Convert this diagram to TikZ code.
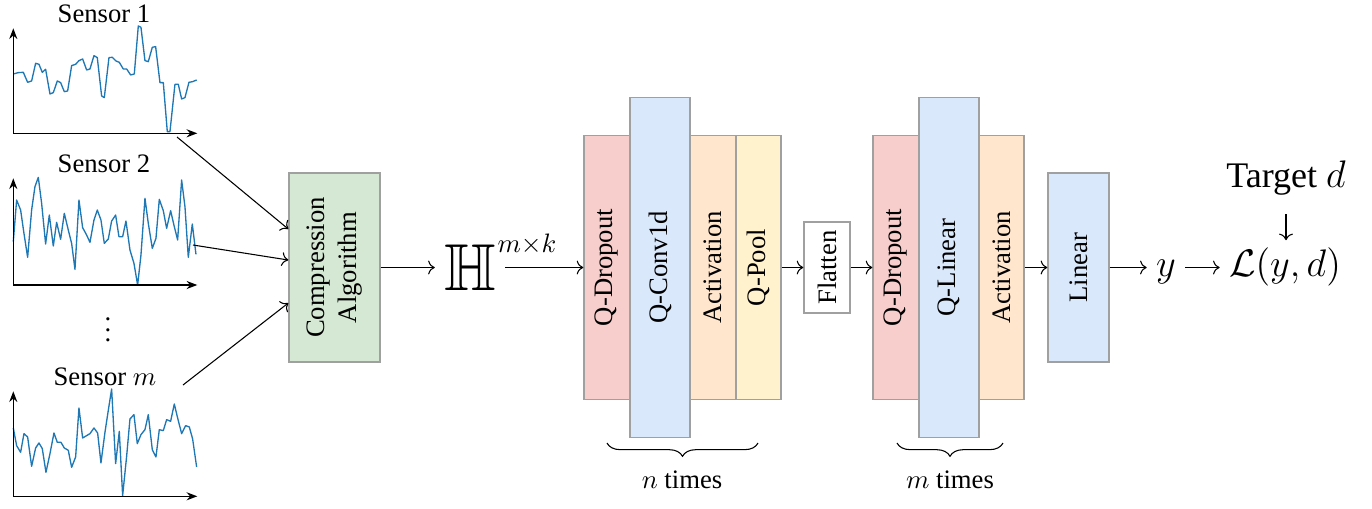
\documentclass[tikz,border=0pt]{standalone}
\usepackage{amsfonts,amsmath,amssymb}
\usepackage{fontspec}
\setmainfont{Liberation Serif}
\usetikzlibrary{decorations.pathreplacing, positioning, arrows.meta}

\definecolor{framecol}{HTML}{A0A0A0}
\definecolor{dropcol}{HTML}{F8CECC}
\definecolor{convcol}{HTML}{DAE8FC}
\definecolor{actcol}{HTML}{FFE6CC}
\definecolor{poolcol}{HTML}{FFF2CC}
\definecolor{compcol}{HTML}{D5E8D4}
\definecolor{sigcol}{HTML}{1F77B4}

\begin{document}
\begin{tikzpicture}[x=0.375pt, y=-0.375pt,
		layer/.style={draw=framecol, line width=0.5pt, inner sep=0pt, minimum width=17.25pt, minimum height=99pt},
		wide/.style={minimum width=22.5pt, minimum height=127.5pt},
		sig/.style={sigcol, line width=0.5pt, line join=round},
		ax/.style={-{Stealth[length=4pt, width=3pt]}, line width=0.6pt},
		big/.style={font=\fontsize{13.5}{16}\selectfont, text height=10pt, text depth=3.4pt},
		brc/.style={decorate, decoration={brace, mirror, amplitude=5pt}}]
	\useasboundingbox (0,0) rectangle (1372,508);

	% sensor signals
	\node (sen1) at (104,14) {Sensor 1};
	\begin{scope}[shift={(13.3,133.3)}, x=0.125pt, y=0.125pt]
		\draw[sig] plot coordinates {(0,178) (15,182) (30,183) (43,153) (55,157) (67,210) (77,207) (87,183) (97,192) (110,118) (120,122) (132,157) (142,152) (153,125) (163,127) (175,203) (187,207) (197,218) (208,223) (220,190) (230,193) (242,233) (252,227) (265,112) (273,107) (287,227) (297,228) (308,217) (318,213) (330,193) (340,193) (352,175) (363,178) (375,322) (383,318) (395,218) (405,215) (417,258) (427,260) (440,152) (450,152) (462,5) (470,5) (485,147) (495,147) (505,103) (515,107) (527,153) (538,155) (550,160)};
		\draw[ax] (0,0) -- (0,315);
		\draw[ax] (0,0) -- (552,0);
	\end{scope}

	\node (sen2) at (104,164) {Sensor 2};
	\begin{scope}[shift={(13.3,285)}, x=0.125pt, y=0.125pt]
		\draw[sig] plot coordinates {(0,130) (10,255) (22,225) (32,155) (43,83) (55,225) (65,295) (75,323) (85,245) (97,123) (108,210) (120,117) (130,188) (142,137) (153,215) (165,165) (175,125) (185,47) (197,255) (208,172) (220,150) (230,128) (242,195) (252,225) (263,195) (273,125) (285,138) (295,192) (307,210) (317,145) (328,145) (338,192) (350,105) (362,65) (373,0) (383,90) (395,260) (405,185) (417,110) (428,140) (438,257) (450,223) (460,170) (472,223) (483,175) (493,135) (505,315) (515,235) (525,83) (537,183) (548,92)};
		\draw[ax] (0,0) -- (0,320);
		\draw[ax] (0,0) -- (552,0);
	\end{scope}

	\node (dots) at (108,322) {$\vdots$};

	\node (senm) at (105,377) {Sensor $m$};
	\begin{scope}[shift={(13.3,496.3)}, x=0.125pt, y=0.125pt]
		\draw[sig] plot coordinates {(0,205) (10,152) (22,132) (32,188) (43,178) (55,90) (67,145) (77,160) (87,143) (98,72) (110,128) (122,190) (132,162) (143,162) (153,145) (165,138) (175,87) (187,118) (197,265) (208,175) (220,182) (230,188) (242,205) (253,190) (263,100) (275,192) (285,258) (295,322) (307,98) (318,195) (328,2) (340,120) (350,232) (362,245) (372,158) (383,185) (395,200) (405,245) (417,140) (428,118) (438,200) (450,197) (460,230) (472,225) (483,277) (493,235) (505,188) (517,212) (528,208) (538,172) (550,88)};
		\draw[ax] (0,0) -- (0,315);
		\draw[ax] (0,0) -- (552,0);
	\end{scope}

	% compression and network
	\node[layer, fill=compcol, minimum width=34.1pt, minimum height=70.9pt] (comp) at (334.5,267.5)
		{\rotatebox{90}{\begin{tabular}{@{}c@{}}Compression\\Algorithm\end{tabular}}};

	\node (H) at (470,267.5) {\Huge$\mathbb{H}$};
	\node (Hexp) at (527,244) {$m{\times}k$};

	\node[layer, fill=dropcol] (drop1) at (607,267.5) {\rotatebox{90}{Q-Dropout}};
	\node[layer, wide, fill=convcol] (conv) at (660,267.5) {\rotatebox{90}{Q-Conv1d}};
	\node[layer, fill=actcol] (act1) at (713,267.5) {\rotatebox{90}{Activation}};
	\node[layer, fill=poolcol, minimum width=16.9pt] (pool) at (758.5,267.5) {\rotatebox{90}{Q-Pool}};

	\node[layer, fill=white, minimum height=34.1pt] (flat) at (827,267.5) {\rotatebox{90}{Flatten}};

	\node[layer, fill=dropcol] (drop2) at (896,267.5) {\rotatebox{90}{Q-Dropout}};
	\node[layer, wide, fill=convcol] (qlin) at (949,267.5) {\rotatebox{90}{Q-Linear}};
	\node[layer, fill=actcol, minimum width=16.9pt] (act2) at (1001.5,267.5) {\rotatebox{90}{Activation}};

	\node[layer, fill=convcol, minimum width=22.9pt, minimum height=70.9pt] (lin) at (1078.5,267.5) {\rotatebox{90}{Linear}};

	\node[big] (out) at (1166,267.5) {$y$};
	\node[big] (loss) at (1285,267.5) {$\mathcal{L}(y,d)$};
	\node[big] (target) at (1286,179) {Target $d$};

	% connectors
	\coordinate (s1) at (177,137);
	\coordinate (s2) at (193,245);
	\coordinate (s3) at (183,385);
	\draw[->] (s1) -- ([yshift=14.4pt]comp.west);
	\draw[->] (s2) -- ([yshift=2.8pt]comp.west);
	\draw[->] (s3) -- ([yshift=-13.3pt]comp.west);

	\draw[->] (comp) -- (H);
	\draw[->] (H.east) -- (H.east -| drop1.west);
	\draw[->] (pool) -- (flat);
	\draw[->] (flat) -- (drop2);
	\draw[->] (act2) -- (lin);
	\draw[->] (lin) -- (out);
	\draw[->] (out) -- (loss);
	\draw[->, shorten <=3pt] (target.south) -- (target.south |- loss.north);

	% repetition braces
	\coordinate (n1) at (607,443);
	\coordinate (n2) at (758,443);
	\coordinate (m1) at (897,443);
	\coordinate (m2) at (1003,443);
	\draw[brc] (n1) -- (n2);
	\draw[brc] (m1) -- (m2);
	\node (ntimes) at (682,480) {$n$ times};
	\node (mtimes) at (950,480) {$m$ times};
\end{tikzpicture}
\end{document}
